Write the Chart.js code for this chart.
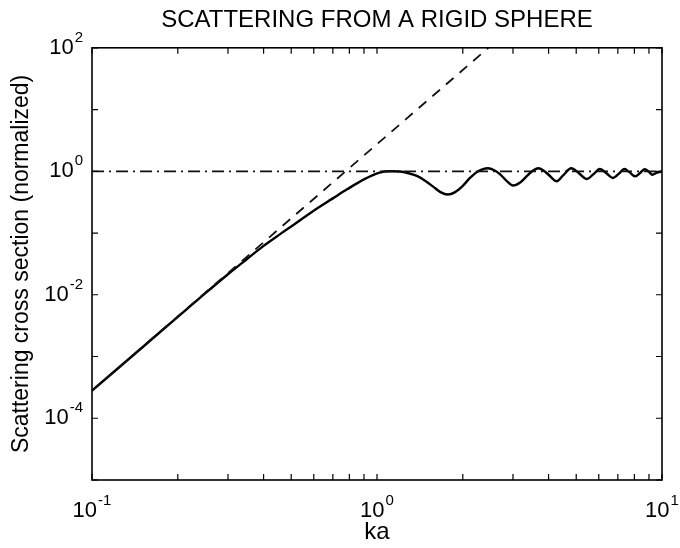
<!DOCTYPE html>
<html>
<head>
<meta charset="utf-8">
<script src="https://cdn.jsdelivr.net/npm/chart.js@4.4.0/dist/chart.umd.min.js"></script>
<style>
  html, body { margin: 0; padding: 0; background: #fff; }
  #wrap { width: 680px; height: 548px; }
</style>
</head>
<body>
<div id="wrap"><canvas id="sphereChart" width="680" height="548"></canvas></div>
<script>
// Scattering cross section
const kaValues = [0.1, 0.15, 0.2, 0.25, 0.3, 0.35, 0.4, 0.457, 0.5, 0.596, 0.7, 0.785, 0.9, 1.02, 1.11,
  1.2, 1.29, 1.38, 1.47, 1.57, 1.67, 1.77, 1.88, 2.0, 2.12, 2.25, 2.45, 2.58, 2.7, 2.85, 3.0,
  3.18, 3.36, 3.5, 3.68, 3.85, 4.0, 4.27, 4.5, 4.8, 5.1, 5.45, 5.75, 6.05, 6.4, 6.72, 7.05,
  7.38, 7.7, 8.05, 8.4, 8.7, 9.0, 9.25, 9.6, 10];
const sigmaValues = [2.8e-4, 1.4e-3, 4.4e-3, 0.0106, 0.0215, 0.038, 0.062, 0.096, 0.128, 0.226, 0.364, 0.51, 0.74, 0.95, 1.0,
  0.99, 0.93, 0.84, 0.71, 0.57, 0.46, 0.42, 0.46, 0.58, 0.78, 0.98, 1.12, 1.04, 0.9, 0.7, 0.59,
  0.66, 0.84, 1.0, 1.12, 1.02, 0.88, 0.69, 0.86, 1.12, 0.94, 0.75, 0.9, 1.09, 0.92, 0.78, 0.91,
  1.09, 0.96, 0.83, 0.95, 1.08, 0.98, 0.88, 0.95, 1.0];

// Low frequency asymptote (dashed) and high frequency limit (dash-dot)
const rayleighKa = [0.1, 2.46];
const rayleighSigma = [2.8e-4, 100];
const limitKa = [0.1, 10];
const limitSigma = [1, 1];

// Tick labels
const xTickValues = [0.1, 1, 10];
const xTickExps = ["-1", "0", "1"];
const yTickValues = [100, 1, 0.01, 0.0001];
const yTickExps = ["2", "0", "-2", "-4"];
const xMinorTicks = [0.1, 0.2, 0.3, 0.4, 0.5, 0.6, 0.7, 0.8, 0.9, 1, 2, 3, 4, 5, 6, 7, 8, 9, 10];
const yMinorTicks = [1e-5, 1e-4, 1e-3, 1e-2, 1e-1, 1, 10, 100];

const toPoints = (xs, ys) => xs.map((x, i) => ({ x: x, y: ys[i] }));

const FONT = "'Liberation Sans', Arial, Helvetica, sans-serif";

function drawPower(ctx, exp, x, y, align) {
  ctx.font = "22px " + FONT;
  const baseW = ctx.measureText("10").width;
  ctx.font = "15px " + FONT;
  const expW = ctx.measureText(exp).width;
  const total = baseW + expW + 1;
  let left = x;
  if (align === "center") left = x - total / 2;
  if (align === "right") left = x - total;
  ctx.textAlign = "left";
  ctx.textBaseline = "middle";
  ctx.font = "22px " + FONT;
  ctx.fillText("10", left, y);
  ctx.font = "15px " + FONT;
  ctx.fillText(exp, left + baseW + 1, y - 10);
}

// box, inward ticks and 10^n labels
const frame = {
  id: "frame",
  afterDraw(chart) {
    const { ctx, chartArea: a, scales } = chart;
    ctx.save();
    ctx.strokeStyle = "#000";
    ctx.fillStyle = "#000";
    ctx.lineWidth = 1.6;
    ctx.strokeRect(a.left, a.top, a.right - a.left, a.bottom - a.top);
    ctx.lineWidth = 1.2;
    ctx.beginPath();
    xMinorTicks.forEach(v => {
      const px = scales.x.getPixelForValue(v);
      ctx.moveTo(px, a.bottom); ctx.lineTo(px, a.bottom - 6);
      ctx.moveTo(px, a.top); ctx.lineTo(px, a.top + 6);
    });
    yMinorTicks.forEach(v => {
      const py = scales.y.getPixelForValue(v);
      ctx.moveTo(a.left, py); ctx.lineTo(a.left + 6, py);
      ctx.moveTo(a.right, py); ctx.lineTo(a.right - 6, py);
    });
    ctx.stroke();
    xTickValues.forEach((v, i) => {
      drawPower(ctx, xTickExps[i], scales.x.getPixelForValue(v), a.bottom + 31, "center");
    });
    yTickValues.forEach((v, i) => {
      drawPower(ctx, yTickExps[i], a.left - 9, scales.y.getPixelForValue(v), "right");
    });
    ctx.restore();
  }
};

const ctx = document.getElementById("sphereChart").getContext("2d");

new Chart(ctx, {
  type: "scatter",
  data: {
    datasets: [
      {
        label: "limit",
        data: toPoints(limitKa, limitSigma),
        showLine: true,
        borderColor: "#111",
        borderWidth: 1.8,
        borderDash: [12, 5, 2, 5],
        pointRadius: 0
      },
      {
        label: "rayleigh",
        data: toPoints(rayleighKa, rayleighSigma),
        showLine: true,
        borderColor: "#111",
        borderWidth: 1.8,
        borderDash: [10, 8],
        pointRadius: 0
      },
      {
        label: "sigma",
        data: toPoints(kaValues, sigmaValues),
        showLine: true,
        borderColor: "#000",
        borderWidth: 2.4,
        cubicInterpolationMode: "monotone",
        pointRadius: 0
      }
    ]
  },
  options: {
    responsive: false,
    animation: false,
    devicePixelRatio: 1,
    layout: { padding: { left: 0, right: 18, top: 0, bottom: 0 } },
    plugins: {
      legend: { display: false },
      tooltip: { enabled: false },
      title: {
        display: true,
        fullSize: false,
        text: "SCATTERING FROM A RIGID SPHERE",
        color: "#000",
        font: { family: FONT, size: 24, weight: "normal" },
        padding: { top: 6, bottom: 13 }
      }
    },
    scales: {
      x: {
        type: "logarithmic",
        min: 0.1,
        max: 10,
        grid: { display: false, drawTicks: false },
        border: { display: false },
        ticks: { display: false },
        title: {
          display: true,
          text: "ka",
          color: "#000",
          font: { family: FONT, size: 24 },
          padding: { top: 0, bottom: 1 }
        },
        afterFit(scale) { scale.height = 68; }
      },
      y: {
        type: "logarithmic",
        min: 1e-5,
        max: 100,
        grid: { display: false, drawTicks: false },
        border: { display: false },
        ticks: { display: false },
        title: {
          display: true,
          text: "Scattering cross section (normalized)",
          color: "#000",
          font: { family: FONT, size: 23 },
          padding: { top: 8, bottom: 0 }
        },
        afterFit(scale) { scale.width = 92; }
      }
    }
  },
  plugins: [frame]
});
</script>
</body>
</html>
